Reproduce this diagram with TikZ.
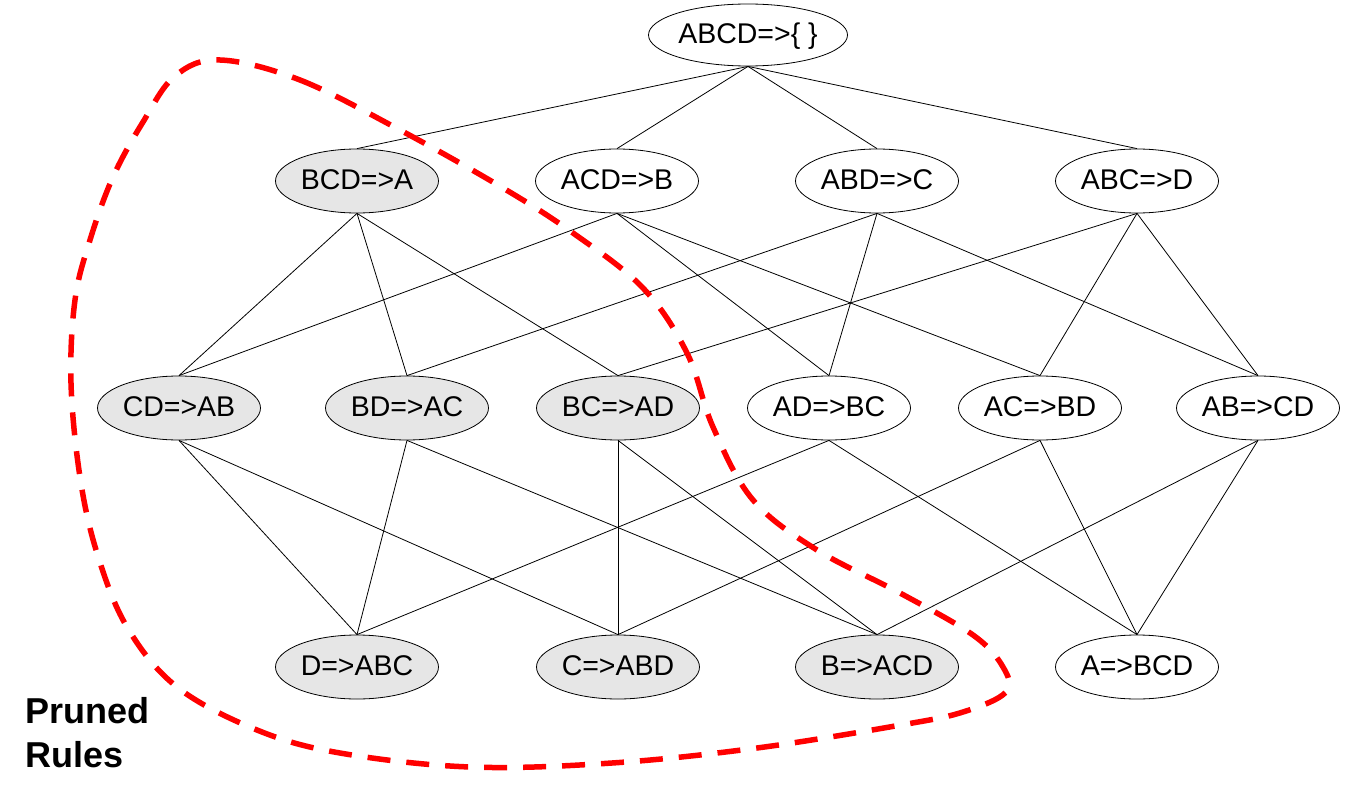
\documentclass[tikz,border=0pt]{standalone}
\usepackage{fontspec}
\setmainfont{Liberation Sans}
\usetikzlibrary{shapes.geometric}
\definecolor{shade}{HTML}{E6E6E6}
\begin{document}
\begin{tikzpicture}[x=1pt,y=-1pt,
  rule/.style={ellipse, draw=black, line width=0.8pt, fill=white,
    minimum width=163pt, minimum height=64pt, inner sep=0pt,
    font=\fontsize{28.5}{34}\selectfont, text height=19pt, text depth=2pt},
  pruned/.style={rule, fill=shade},
  link/.style={line width=0.8pt, black},
  prune/.style={red, line width=5.5pt, dash pattern=on 23pt off 16pt}]
\useasboundingbox (0,0) rectangle (1345,800);
% row 0
\node[rule, minimum width=199pt, minimum height=62pt] (abcd) at (748,35) {ABCD=>\{ \}};
% row 1
\node[pruned] (bcd) at (357,181) {BCD=>A};
\node[rule] (acd) at (617,181) {ACD=>B};
\node[rule] (abd) at (877,181) {ABD=>C};
\node[rule] (abc) at (1137,181) {ABC=>D};
% row 2
\node[pruned] (cd) at (179,408) {CD=>AB};
\node[pruned] (bd) at (407,408) {BD=>AC};
\node[pruned] (bc) at (618,408) {BC=>AD};
\node[rule] (ad) at (829,408) {AD=>BC};
\node[rule] (ac) at (1040,408) {AC=>BD};
\node[rule] (ab) at (1258,408) {AB=>CD};
% row 3
\node[pruned] (d) at (357,667) {D=>ABC};
\node[pruned] (c) at (618,667) {C=>ABD};
\node[pruned] (b) at (877,667) {B=>ACD};
\node[rule] (a) at (1137,667) {A=>BCD};
% edges
\foreach \u/\v in {abcd/bcd, abcd/acd, abcd/abd, abcd/abc,
  bcd/cd, bcd/bd, bcd/bc, acd/cd, acd/ad, acd/ac,
  abd/bd, abd/ad, abd/ab, abc/bc, abc/ac, abc/ab,
  cd/d, cd/c, bd/d, bd/b, bc/c, bc/b, ad/d, ad/a, ac/c, ac/a, ab/b, ab/a}
  \draw[link] (\u.south) -- (\v.north);
% pruned region
\draw[prune] plot[smooth cycle, tension=0.6] coordinates {
  (220,60) (300,80) (400,130) (503,188) (573,233) (643,288) (687,353)
  (713,427) (753,500) (817,550) (900,593) (973,635) (1003,667) (1006,692)
  (963,712) (901,725) (757,748) (612,763) (470,767) (340,753) (257,730)
  (177,687) (127,627) (97,553) (80,477) (71,383) (75,300) (90,240)
  (113,177) (143,122) (175,76)};
\node[anchor=base west, font=\bfseries\fontsize{36}{44}\selectfont, align=left, inner sep=0pt] (lbl) at (25,767) {Pruned\\Rules};
\end{tikzpicture}
\end{document}
